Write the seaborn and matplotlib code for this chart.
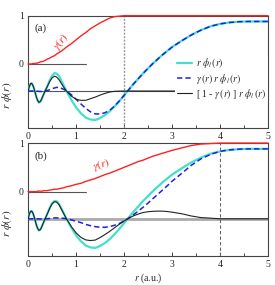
import numpy as np
import pandas as pd
import matplotlib
matplotlib.use("Agg")
import matplotlib.pyplot as plt
import seaborn as sns

sns.set_style("ticks")
plt.rcParams['font.family'] = ['Liberation Serif', 'DejaVu Serif']
plt.rcParams['mathtext.fontset'] = 'stix'

# radial grid (a.u.)
r = [0.0, 0.025, 0.05, 0.075, 0.10, 0.125, 0.15, 0.175, 0.20, 0.225, 0.25, 0.275,
     0.30, 0.325, 0.35, 0.40, 0.45, 0.50, 0.55, 0.60, 0.65, 0.70, 0.75, 0.80,
     0.90, 1.00, 1.10, 1.20, 1.30, 1.40, 1.50, 1.60, 1.70, 1.80, 1.90, 2.00,
     2.10, 2.20, 2.30, 2.40, 2.50, 2.60, 2.70, 2.80, 2.90, 3.00, 3.20, 3.40,
     3.60, 3.80, 4.00, 4.20, 4.40, 4.60, 4.80, 5.00]

# r*phi_l(r)
rphi = [0.00, 0.09, 0.15, 0.16, 0.12, 0.05, -0.04, -0.13, -0.20, -0.24, -0.23, -0.19,
        -0.13, -0.07, -0.01, 0.10, 0.22, 0.32, 0.37, 0.36, 0.30, 0.20, 0.10, 0.00,
        -0.18, -0.34, -0.46, -0.55, -0.59, -0.60, -0.56, -0.50, -0.42, -0.32, -0.21, -0.09,
        0.03, 0.15, 0.26, 0.37, 0.47, 0.57, 0.66, 0.75, 0.83, 0.91, 1.04, 1.16,
        1.26, 1.34, 1.39, 1.42, 1.435, 1.44, 1.44, 1.44]

# switching function, panel (a)
gamma_a = [0.00, 0.00, 0.00, 0.00, 0.01, 0.01, 0.01, 0.02, 0.02, 0.03, 0.04, 0.05,
           0.05, 0.06, 0.07, 0.10, 0.12, 0.15, 0.17, 0.21, 0.24, 0.27, 0.31, 0.35,
           0.42, 0.50, 0.58, 0.65, 0.73, 0.79, 0.85, 0.90, 0.95, 0.98, 0.99, 1.00,
           1.00, 1.00, 1.00, 1.00, 1.00, 1.00, 1.00, 1.00, 1.00, 1.00, 1.00, 1.00,
           1.00, 1.00, 1.00, 1.00, 1.00, 1.00, 1.00, 1.00]

# switching function, panel (b)
gamma_b = [0.00, 0.00, 0.00, 0.00, 0.00, 0.00, 0.00, 0.00, 0.01, 0.01, 0.01, 0.01,
           0.01, 0.02, 0.02, 0.02, 0.03, 0.04, 0.05, 0.05, 0.06, 0.07, 0.08, 0.10,
           0.12, 0.15, 0.17, 0.21, 0.24, 0.27, 0.31, 0.35, 0.38, 0.42, 0.46, 0.50,
           0.54, 0.58, 0.62, 0.65, 0.69, 0.73, 0.76, 0.79, 0.82, 0.85, 0.90, 0.95,
           0.98, 0.99, 1.00, 1.00, 1.00, 1.00, 1.00, 1.00]

panels = ["(a)", "(b)"]
cutoffs = [2.0, 4.0]
x_ticks = [0, 1, 2, 3, 4, 5]
y_ticks = [0, 1]
legend_labels = [r"$r\ \phi_l\,(r)$",
                 r"$\gamma\,(r)\ r\ \phi_l\,(r)$",
                 r"[ 1 - $\gamma\,(r)$ ] $r\ \phi_l\,(r)$"]

BASE = -0.56  # vertical offset of the wavefunction curves

fig = plt.figure(figsize=(2.75, 2.85), dpi=100)
ax_a = fig.add_axes([0.102, 0.551, 0.873, 0.394])
ax_b = fig.add_axes([0.102, 0.102, 0.873, 0.396])
ax_a.set_zorder(3)
ax_a.patch.set_alpha(0)

r_arr = np.array(r)
f = np.array(rphi)
for ax, g, label, rc in zip([ax_a, ax_b], [gamma_a, gamma_b], panels, cutoffs):
    g = np.array(g)
    df = pd.DataFrame({"r": r_arr, "gamma": g,
                       "full": f + BASE, "inner": g * f + BASE,
                       "outer": (1 - g) * f + BASE})
    if label == "(a)":
        ax.axhline(BASE, color="#555555", lw=0.8, zorder=1)
    else:
        ax.axhline(BASE, color="#aaaaaa", lw=2.0, zorder=1)
    ax.plot([0, 1.2], [0, 0], color="#555555", lw=0.8, zorder=1)
    if label == "(a)":
        ax.axvline(rc, color="#999999", lw=1.0, ls=(0, (1.5, 1)), zorder=1)
    else:
        ax.axvline(rc, color="#666666", lw=0.8, ls=(0, (3, 2)), zorder=1)
    sns.lineplot(data=df, x="r", y="full", ax=ax, color="#40E0D0", lw=1.6,
                 sort=False, label=legend_labels[0], zorder=3)
    sns.lineplot(data=df, x="r", y="inner", ax=ax, color="#2020E0", lw=1.1,
                 sort=False, label=legend_labels[1], zorder=4)
    ax.lines[-1].set_linestyle((0, (3.5, 2)))
    sns.lineplot(data=df, x="r", y="outer", ax=ax, color="#222222", lw=0.8,
                 sort=False, label=legend_labels[2], zorder=5)
    sns.lineplot(data=df, x="r", y="gamma", ax=ax, color="#FF2020", lw=1.0,
                 sort=False, zorder=6)
    ax.lines[-1].set_clip_on(False)
    ax.set_xlim(0, 5)
    ax.set_ylim(-1.325, 1.0)
    ax.set_xticks(x_ticks)
    ax.set_xticklabels([str(t) for t in x_ticks])
    ax.set_xticks([0.5, 1.5, 2.5, 3.5, 4.5], minor=True)
    ax.set_yticks(y_ticks)
    ax.set_yticklabels([str(t) for t in y_ticks])
    ax.tick_params(direction="in", labelsize=7, length=3, width=0.6, pad=3,
                   labelbottom=True, labelleft=True)
    ax.tick_params(which="minor", direction="in", length=2, width=0.6)
    for s in ax.spines.values():
        s.set_linewidth(0.8)
        s.set_color("#444444")
    ax.set_xlabel("")
    ax.set_ylabel(r"$r\ \phi(r)$", fontsize=8, labelpad=2)
    ax.yaxis.set_label_coords(-0.06, 0.29)
    ax.text(0.025, 0.93, label, transform=ax.transAxes, fontsize=8,
            ha="left", va="top")

ax_a.text(0.68, 0.47, r"$\gamma(r)$", color="#FF2020", fontsize=8,
          rotation=52, ha="center", va="center")
ax_b.text(1.52, 0.55, r"$\gamma(r)$", color="#FF2020", fontsize=8,
          rotation=18, ha="center", va="center")

ax_a.legend(loc="upper left", bbox_to_anchor=(0.612, 0.655), fontsize=7,
            frameon=True, framealpha=1, edgecolor="none", facecolor="white",
            handlelength=1.55, handletextpad=0.4, labelspacing=0.12,
            borderpad=0.2, borderaxespad=0)
ax_b.get_legend().remove()

ax_b.set_xlabel(r"$r$ (a.u.)", fontsize=7, labelpad=2)

fig.canvas.draw()
fig.savefig("out.png", dpi=100)
